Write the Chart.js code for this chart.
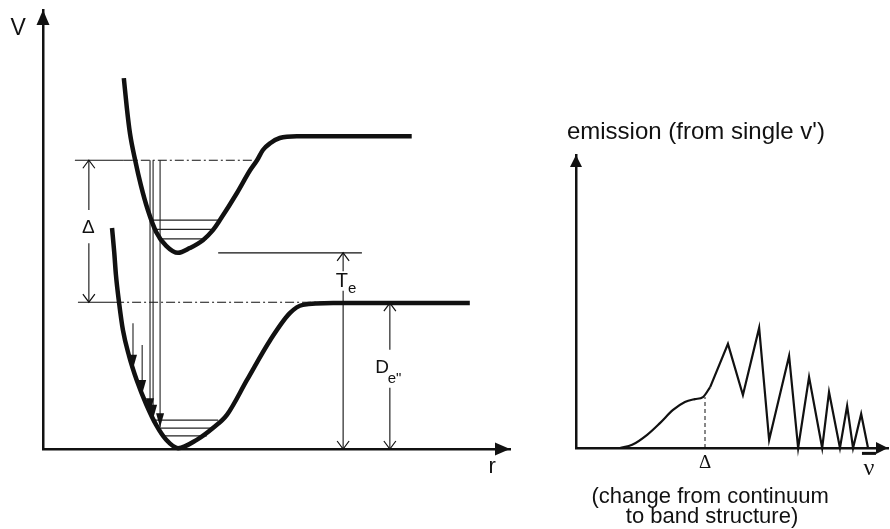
<!DOCTYPE html>
<html>
<head>
<meta charset="utf-8">
<script src="https://cdn.jsdelivr.net/npm/chart.js@4.4.0/dist/chart.umd.min.js"></script>
<style>
  body { margin: 0; background: #fff; }
  #wrap { position: relative; width: 890px; height: 529px; overflow: hidden; }
  #potential { position: absolute; left: 0; top: 0; }
  #spectrum { position: absolute; left: 530px; top: 0; }
</style>
</head>
<body>
<div id="wrap">
  <canvas id="potential" width="530" height="529"></canvas>
  <canvas id="spectrum" width="360" height="529"></canvas>
</div>
<script>
// ---- potential curves (r, V in arbitrary units) ----
var upperR = [1.85, 1.92, 1.99, 2.11, 2.24, 2.40, 2.59, 2.82, 3.09, 3.36, 3.66, 3.89, 4.05, 4.44, 4.74, 4.90, 5.03, 5.20, 5.42, 5.81, 8.44];
var upperV = [8.49, 7.80, 7.23, 6.61, 6.04, 5.47, 4.97, 4.65, 4.49, 4.60, 4.78, 5.01, 5.24, 5.86, 6.38, 6.61, 6.84, 7.00, 7.12, 7.16, 7.16];
var lowerR = [1.58, 1.63, 1.67, 1.74, 1.83, 1.97, 2.15, 2.36, 2.59, 2.82, 3.09, 3.52, 3.89, 4.21, 4.67, 5.20, 5.65, 5.95, 6.64, 9.77];
var lowerV = [5.06, 4.51, 3.98, 3.36, 2.72, 2.13, 1.56, 1.03, 0.55, 0.21, 0.02, 0.21, 0.48, 0.78, 1.58, 2.49, 3.11, 3.30, 3.34, 3.34];

// vibrational levels
var upperLevelV = [5.24, 5.03, 4.81];
var upperLevelR0 = [2.45, 2.56, 2.63];
var upperLevelR1 = [4.05, 3.89, 3.75];
var lowerLevelV = [0.66, 0.48, 0.30];
var lowerLevelR0 = [2.56, 2.68, 2.75];
var lowerLevelR1 = [4.01, 3.89, 3.75];

// emission transitions (vertical arrows)
var transR = [2.06, 2.27, 2.45, 2.52, 2.68];
var transTop = [2.88, 2.38, 6.61, 6.61, 6.61];
var transBottom = [1.84, 1.26, 0.84, 0.69, 0.50];

// energy markers: Delta, T_e, D_e''
var markerR = [1.05, 6.87, 7.94];
var markerTop = [6.61, 4.49, 3.34];
var markerBottom = [3.36, 0, 0];
var markerGapTop = [5.47, 4.07, 2.27];
var markerGapBottom = [4.71, 3.62, 1.40];
var upperDashR = [0.73, 1.85, 4.84];   // tick start, dash start, dash end
var upperDashV = 6.61;
var lowerDashR = [0.80, 1.65, 6.64];
var lowerDashV = 3.36;
var teLineR = [4.01, 7.30];
var teV = 4.49;

// ---- emission spectrum ----
var contNu = [1.41, 1.80, 2.28, 2.69, 3.11, 3.49, 3.81, 4.07, 4.30];
var contI = [0, 0.11, 0.46, 0.87, 1.33, 1.61, 1.71, 1.78, 2.13];
var bandNu = [4.30, 4.87, 5.35, 5.87, 6.19, 6.83, 7.12, 7.47, 7.89, 8.11, 8.46, 8.69, 8.88, 9.14, 9.36];
var bandI = [2.13, 3.64, 1.85, 4.20, 0.28, 3.22, 0, 2.48, 0, 1.96, 0, 1.47, 0, 1.19, 0];
var deltaNu = 4.135;
var deltaI = 1.78;

var SANS = '"Liberation Sans", Arial, sans-serif';
var SERIF = '"Liberation Serif", "Times New Roman", serif';
var INK = '#111';

function seg(xs, ys, style) {
  return Object.assign({
    data: xs.map(function (x, i) { return { x: x, y: ys[i] }; }),
    borderColor: INK,
    borderWidth: 1,
    pointRadius: 0,
    fill: false,
    tension: 0,
    spanGaps: false,
    clip: false
  }, style || {});
}

function drawHead(ctx, from, to, len, half, filled) {
  var a = Math.atan2(to.y - from.y, to.x - from.x);
  ctx.save();
  ctx.translate(to.x, to.y);
  ctx.rotate(a);
  ctx.beginPath();
  ctx.moveTo(-len, -half);
  ctx.lineTo(0, 0);
  ctx.lineTo(-len, half);
  if (filled) { ctx.closePath(); ctx.fill(); } else { ctx.stroke(); }
  ctx.restore();
}

// arrow heads on datasets and at the end of both axes
var arrowHeads = {
  id: 'arrowHeads',
  afterDatasetsDraw: function (chart) {
    var ctx = chart.ctx;
    ctx.save();
    ctx.fillStyle = INK;
    ctx.strokeStyle = INK;
    chart.data.datasets.forEach(function (ds, i) {
      if (!ds.heads) return;
      var pts = chart.getDatasetMeta(i).data.filter(function (p) { return !p.skip; });
      if (pts.length < 2) return;
      var filled = ds.headStyle === 'filled';
      var len = filled ? 14 : 8, half = filled ? 4 : 6;
      ctx.lineWidth = 1.2;
      var n = pts.length;
      drawHead(ctx, pts[n - 2], pts[n - 1], len, half, filled);
      if (ds.heads === 'both') drawHead(ctx, pts[1], pts[0], len, half, filled);
    });
    var ax = chart.options.plugins.arrowHeads;
    var a = chart.chartArea;
    drawHead(ctx, { x: a.left, y: a.bottom }, { x: a.left, y: a.top }, ax.len, ax.half, true);
    drawHead(ctx, { x: a.left, y: a.bottom }, { x: a.right, y: a.bottom }, ax.len, ax.half, true);
    ctx.restore();
  }
};

// text placed in data coordinates
var textLabels = {
  id: 'textLabels',
  afterDraw: function (chart) {
    var ctx = chart.ctx;
    var xs = chart.scales.x, ys = chart.scales.y;
    ctx.save();
    ctx.fillStyle = INK;
    ctx.textBaseline = 'alphabetic';
    chart.options.plugins.textLabels.items.forEach(function (t) {
      ctx.font = t.size + 'px ' + (t.serif ? SERIF : SANS);
      ctx.textAlign = t.align || 'center';
      var px = xs.getPixelForValue(t.x), py = ys.getPixelForValue(t.y);
      ctx.fillText(t.text, px, py);
      if (t.bar) {
        ctx.fillRect(px - 7, py - 23, 14, 3);
      }
    });
    ctx.restore();
  }
};

function hiddenScale(max, horizontal) {
  return {
    type: 'linear', min: 0, max: max,
    ticks: { display: false },
    grid: { display: false },
    border: { display: true, color: INK, width: 2.5 },
    afterFit: function (s) { if (horizontal) { s.height = 0; } else { s.width = 0; } }
  };
}

// ---------- left: potential energy curves ----------
var potSets = [];
potSets.push(seg(upperR, upperV, { borderWidth: 4.5, cubicInterpolationMode: 'monotone' }));
potSets.push(seg(lowerR, lowerV, { borderWidth: 4.5, cubicInterpolationMode: 'monotone' }));
upperLevelV.forEach(function (v, i) {
  potSets.push(seg([upperLevelR0[i], upperLevelR1[i]], [v, v], { borderWidth: 1.2, borderColor: '#222' }));
});
lowerLevelV.forEach(function (v, i) {
  potSets.push(seg([lowerLevelR0[i], lowerLevelR1[i]], [v, v], { borderWidth: 1.2, borderColor: '#222' }));
});
transR.forEach(function (r, i) {
  potSets.push(seg([r, r], [transTop[i], transBottom[i]], { borderWidth: 1.1, borderColor: '#222', heads: 'end', headStyle: 'filled' }));
});
potSets.push(seg(upperDashR.slice(0, 2), [upperDashV, upperDashV], { borderWidth: 1.1 }));
potSets.push(seg(upperDashR.slice(1), [upperDashV, upperDashV], { borderWidth: 1.1, borderDash: [9, 3, 2, 3] }));
potSets.push(seg(lowerDashR.slice(0, 2), [lowerDashV, lowerDashV], { borderWidth: 1.1 }));
potSets.push(seg(lowerDashR.slice(1), [lowerDashV, lowerDashV], { borderWidth: 1.1, borderDash: [9, 3, 2, 3] }));
potSets.push(seg(teLineR, [teV, teV], { borderWidth: 1.1 }));
markerR.forEach(function (r, i) {
  potSets.push(seg([r, r, r, r, r],
    [markerTop[i], markerGapTop[i], null, markerGapBottom[i], markerBottom[i]],
    { borderWidth: 1.1, heads: 'both', headStyle: 'open' }));
});

new Chart(document.getElementById('potential'), {
  type: 'line',
  data: { datasets: potSets },
  options: {
    responsive: false,
    animation: false,
    events: [],
    layout: { padding: { left: 43, top: 10, right: 20, bottom: 80 } },
    scales: { x: hiddenScale(10.69, true), y: hiddenScale(10.05, false) },
    plugins: {
      legend: { display: false },
      tooltip: { enabled: false },
      arrowHeads: { len: 15, half: 6.5 },
      textLabels: {
        items: [
          { text: 'V', x: -0.57, y: 9.47, size: 23 },
          { text: 'r', x: 10.28, y: -0.55, size: 22 },
          { text: 'Δ', x: 1.04, y: 4.94, size: 19 },
          { text: 'T', x: 6.84, y: 3.71, size: 20 },
          { text: 'e', x: 7.08, y: 3.57, size: 15 },
          { text: 'D', x: 7.76, y: 1.74, size: 19 },
          { text: 'e"', x: 7.89, y: 1.51, size: 15, align: 'left' }
        ]
      }
    }
  },
  plugins: [arrowHeads, textLabels]
});

// ---------- right: emission spectrum ----------
new Chart(document.getElementById('spectrum'), {
  type: 'line',
  data: {
    datasets: [
      seg(contNu, contI, { borderWidth: 2.2, cubicInterpolationMode: 'monotone' }),
      seg(bandNu, bandI, { borderWidth: 2.2 }),
      seg([deltaNu, deltaNu], [0, deltaI], { borderWidth: 1, borderDash: [4, 3] })
    ]
  },
  options: {
    responsive: false,
    animation: false,
    events: [],
    layout: { padding: { left: 46, top: 155, right: 2, bottom: 81 } },
    scales: { x: hiddenScale(10, true), y: hiddenScale(10.245, false) },
    plugins: {
      legend: { display: false },
      tooltip: { enabled: false },
      arrowHeads: { len: 12, half: 6 },
      textLabels: {
        items: [
          { text: "emission (from single v')", x: -0.29, y: 10.80, size: 24, align: 'left' },
          { text: 'Δ', x: deltaNu, y: -0.70, size: 19, serif: true },
          { text: 'ν', x: 9.39, y: -0.94, size: 24, serif: true, bar: true },
          { text: '(change from continuum', x: 4.30, y: -1.92, size: 22 },
          { text: 'to band structure)', x: 4.36, y: -2.62, size: 22 }
        ]
      }
    }
  },
  plugins: [arrowHeads, textLabels]
});
</script>
</body>
</html>
